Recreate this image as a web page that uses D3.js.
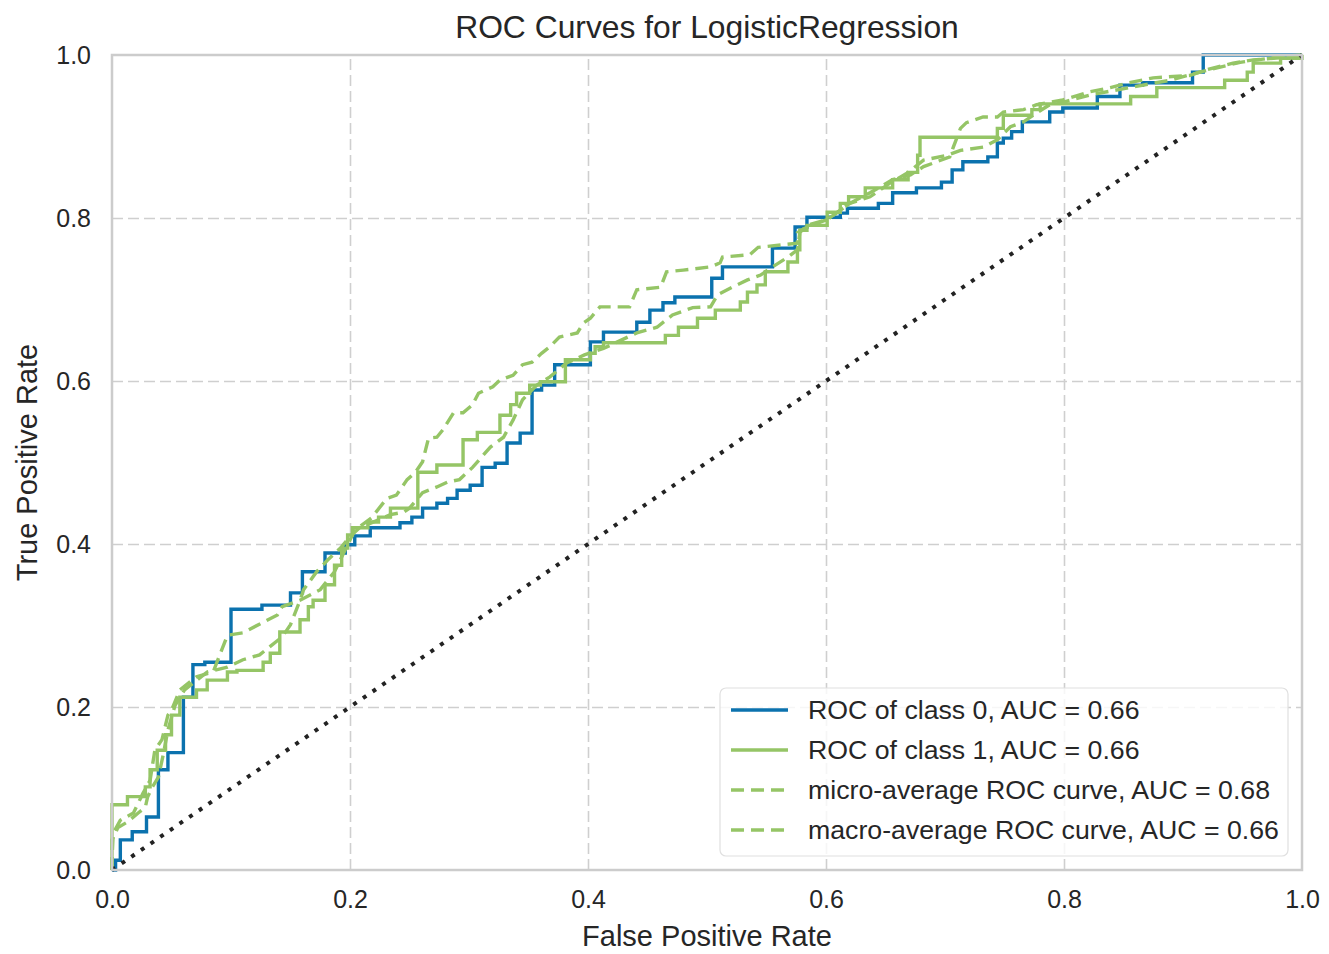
<!DOCTYPE html>
<html>
<head>
<meta charset="utf-8">
<script src="https://cdn.jsdelivr.net/npm/d3@7"></script>
<style>
  body { margin: 0; background: #ffffff; }
  text { font-family: "Liberation Sans", Arial, sans-serif; fill: #262626; }
</style>
</head>
<body>
<svg id="chart" width="1329" height="954"></svg>
<script>
// ROC points, [false positive rate, true positive rate].
// Per-class curves are step curves: each point is where a rise ends.
var class0Roc = [
  [0, 0], [0.003, 0.012], [0.007, 0.037], [0.017, 0.047], [0.029, 0.065],
  [0.039, 0.123], [0.047, 0.144], [0.060, 0.212], [0.068, 0.252], [0.078, 0.255],
  [0.100, 0.320], [0.126, 0.325], [0.150, 0.340], [0.160, 0.366], [0.179, 0.389],
  [0.196, 0.399], [0.204, 0.410], [0.217, 0.420], [0.242, 0.426], [0.252, 0.433],
  [0.261, 0.444], [0.273, 0.450], [0.282, 0.456], [0.290, 0.466], [0.301, 0.472],
  [0.311, 0.494], [0.322, 0.499], [0.332, 0.524], [0.343, 0.536], [0.353, 0.589],
  [0.361, 0.595], [0.372, 0.620], [0.402, 0.648], [0.413, 0.660], [0.441, 0.672],
  [0.452, 0.687], [0.463, 0.696], [0.473, 0.703], [0.504, 0.726], [0.513, 0.740],
  [0.555, 0.763], [0.574, 0.789], [0.584, 0.801], [0.612, 0.806], [0.618, 0.812],
  [0.644, 0.818], [0.656, 0.831], [0.676, 0.837], [0.697, 0.844], [0.706, 0.859],
  [0.715, 0.869], [0.736, 0.875], [0.744, 0.892], [0.749, 0.898], [0.756, 0.906],
  [0.765, 0.918], [0.788, 0.930], [0.799, 0.935], [0.828, 0.949], [0.847, 0.963],
  [0.866, 0.966], [0.908, 0.979], [0.917, 1.0], [1.0, 1.0]
];

var class1Roc = [
  [0, 0], [0, 0.080], [0.013, 0.090], [0.028, 0.102], [0.032, 0.123],
  [0.038, 0.147], [0.045, 0.166], [0.050, 0.190], [0.057, 0.212], [0.071, 0.221],
  [0.080, 0.233], [0.097, 0.243], [0.105, 0.245], [0.127, 0.255], [0.133, 0.266],
  [0.141, 0.292], [0.158, 0.307], [0.165, 0.323], [0.169, 0.331], [0.179, 0.350],
  [0.187, 0.374], [0.193, 0.395], [0.198, 0.411], [0.202, 0.420], [0.215, 0.427],
  [0.224, 0.433], [0.234, 0.444], [0.257, 0.488], [0.273, 0.497], [0.295, 0.528],
  [0.307, 0.537], [0.326, 0.558], [0.335, 0.571], [0.340, 0.585], [0.351, 0.595],
  [0.360, 0.599], [0.381, 0.626], [0.402, 0.634], [0.406, 0.642], [0.413, 0.647],
  [0.465, 0.656], [0.476, 0.666], [0.492, 0.677], [0.507, 0.687], [0.528, 0.697],
  [0.534, 0.709], [0.542, 0.718], [0.549, 0.734], [0.568, 0.746], [0.576, 0.761],
  [0.578, 0.785], [0.584, 0.791], [0.601, 0.807], [0.612, 0.818], [0.619, 0.826],
  [0.633, 0.837], [0.656, 0.847], [0.669, 0.856], [0.677, 0.877], [0.679, 0.899],
  [0.744, 0.910], [0.749, 0.926], [0.773, 0.933], [0.780, 0.940], [0.856, 0.949],
  [0.878, 0.960], [0.935, 0.969], [0.954, 0.979], [0.959, 0.990], [0.982, 0.996],
  [1.0, 1.0]
];

// averaged curves have many tiny steps, read as polylines
var microRoc = [
  [0, 0], [0, 0.012], [0.001, 0.045], [0.007, 0.061], [0.018, 0.070],
  [0.026, 0.094], [0.032, 0.110], [0.036, 0.147], [0.042, 0.160], [0.047, 0.190],
  [0.050, 0.196], [0.057, 0.221], [0.071, 0.237], [0.085, 0.243], [0.097, 0.288],
  [0.110, 0.291], [0.127, 0.304], [0.139, 0.313], [0.143, 0.323], [0.158, 0.331],
  [0.175, 0.344], [0.187, 0.366], [0.196, 0.393], [0.204, 0.417], [0.218, 0.432],
  [0.231, 0.456], [0.239, 0.460], [0.248, 0.479], [0.255, 0.488], [0.261, 0.501],
  [0.266, 0.530], [0.273, 0.531], [0.278, 0.540], [0.287, 0.561], [0.295, 0.561],
  [0.303, 0.571], [0.308, 0.585], [0.320, 0.593], [0.326, 0.601], [0.337, 0.607],
  [0.345, 0.620], [0.353, 0.623], [0.361, 0.634], [0.368, 0.642], [0.376, 0.654],
  [0.391, 0.659], [0.396, 0.671], [0.402, 0.677], [0.410, 0.691], [0.435, 0.691],
  [0.441, 0.712], [0.461, 0.715], [0.466, 0.734], [0.480, 0.736], [0.503, 0.740],
  [0.511, 0.745], [0.513, 0.752], [0.536, 0.755], [0.543, 0.764], [0.576, 0.769],
  [0.576, 0.782], [0.584, 0.789], [0.601, 0.798], [0.620, 0.818], [0.637, 0.831],
  [0.656, 0.847], [0.671, 0.853], [0.682, 0.863], [0.693, 0.869], [0.704, 0.875],
  [0.707, 0.887], [0.713, 0.910], [0.718, 0.917], [0.732, 0.924], [0.744, 0.924],
  [0.749, 0.930], [0.766, 0.933], [0.777, 0.939], [0.799, 0.945], [0.822, 0.955],
  [0.839, 0.960], [0.855, 0.966], [0.875, 0.972], [0.906, 0.975], [0.920, 0.982],
  [0.942, 0.990], [0.959, 0.994], [0.976, 0.996], [0.996, 0.998], [1, 1]
];

var macroRoc = [
  [0, 0], [0, 0.037], [0.005, 0.052], [0.013, 0.059], [0.022, 0.070],
  [0.028, 0.077], [0.030, 0.090], [0.034, 0.102], [0.039, 0.114], [0.043, 0.141],
  [0.047, 0.172], [0.053, 0.202], [0.061, 0.221], [0.080, 0.243], [0.097, 0.249],
  [0.110, 0.258], [0.124, 0.264], [0.143, 0.286], [0.150, 0.301], [0.158, 0.331],
  [0.161, 0.344], [0.172, 0.366], [0.181, 0.380], [0.192, 0.395], [0.200, 0.409],
  [0.208, 0.420], [0.223, 0.429], [0.234, 0.436], [0.245, 0.439], [0.250, 0.444],
  [0.261, 0.463], [0.273, 0.470], [0.282, 0.476], [0.292, 0.479], [0.303, 0.494],
  [0.318, 0.519], [0.329, 0.531], [0.337, 0.552], [0.345, 0.577], [0.357, 0.595],
  [0.368, 0.605], [0.382, 0.622], [0.397, 0.632], [0.413, 0.640], [0.441, 0.659],
  [0.458, 0.666], [0.471, 0.681], [0.488, 0.690], [0.503, 0.691], [0.509, 0.706],
  [0.521, 0.715], [0.534, 0.724], [0.545, 0.730], [0.555, 0.740], [0.568, 0.752],
  [0.576, 0.761], [0.578, 0.782], [0.584, 0.791], [0.601, 0.798], [0.620, 0.818],
  [0.637, 0.826], [0.654, 0.843], [0.668, 0.855], [0.682, 0.871], [0.702, 0.877],
  [0.713, 0.883], [0.732, 0.887], [0.744, 0.896], [0.755, 0.912], [0.766, 0.918],
  [0.777, 0.929], [0.788, 0.939], [0.799, 0.942], [0.822, 0.951], [0.855, 0.960],
  [0.889, 0.969], [0.914, 0.979], [0.948, 0.991], [0.982, 0.998], [1, 1]
];

var diagonal = [[0, 0], [1, 1]];

var tickValues = [0, 0.2, 0.4, 0.6, 0.8, 1.0];

var legendLabels = [
  "ROC of class 0, AUC = 0.66",
  "ROC of class 1, AUC = 0.66",
  "micro-average ROC curve, AUC = 0.68",
  "macro-average ROC curve, AUC = 0.66"
];

var blue = "#0b72ae", green = "#95c566", dash = "13 7";

var svg = d3.select("#chart"),
  margin = {top: 55, right: 27, bottom: 84, left: 112},
  width = svg.attr("width") - margin.left - margin.right,
  height = svg.attr("height") - margin.top - margin.bottom;

var x = d3.scaleLinear().domain([0, 1]).range([0, width]);
var y = d3.scaleLinear().domain([0, 1]).range([height, 0]);

var g = svg.append("g")
  .attr("transform", "translate(" + margin.left + "," + margin.top + ")");

g.append("rect")
  .attr("width", width)
  .attr("height", height)
  .attr("fill", "#ffffff");

// dashed grid, seaborn whitegrid look
var gridX = g.append("g")
  .attr("transform", "translate(0," + height + ")")
  .call(d3.axisBottom(x).tickValues(tickValues.slice(1, -1)).tickSize(-height).tickFormat(""));
var gridY = g.append("g")
  .call(d3.axisLeft(y).tickValues(tickValues.slice(1, -1)).tickSize(-width).tickFormat(""));
[gridX, gridY].forEach(function(a) {
  a.select(".domain").remove();
  a.selectAll("line")
    .attr("stroke", "#cfcfcf")
    .attr("stroke-width", 1.6)
    .attr("stroke-dasharray", "11 5");
});

// tick labels
var axX = g.append("g")
  .attr("transform", "translate(0," + height + ")")
  .call(d3.axisBottom(x).tickValues(tickValues).tickSize(0).tickPadding(20).tickFormat(d3.format(".1f")));
var axY = g.append("g")
  .call(d3.axisLeft(y).tickValues(tickValues).tickSize(0).tickPadding(21).tickFormat(d3.format(".1f")));
[axX, axY].forEach(function(a) {
  a.select(".domain").remove();
  a.selectAll("text")
    .attr("font-size", 25)
    .attr("font-family", "Liberation Sans, Arial, sans-serif")
    .attr("fill", "#262626");
});

var stepLine = d3.line()
  .x(function(d) { return x(d[0]); })
  .y(function(d) { return y(d[1]); })
  .curve(d3.curveStepAfter);
var polyLine = d3.line()
  .x(function(d) { return x(d[0]); })
  .y(function(d) { return y(d[1]); });

var curves = [
  {data: class0Roc, gen: stepLine, color: blue, dash: null},
  {data: class1Roc, gen: stepLine, color: green, dash: null},
  {data: microRoc, gen: polyLine, color: green, dash: dash},
  {data: macroRoc, gen: polyLine, color: green, dash: dash}
];

curves.forEach(function(c) {
  g.append("path")
    .datum(c.data)
    .attr("d", c.gen)
    .attr("fill", "none")
    .attr("stroke", c.color)
    .attr("stroke-width", 3.4)
    .attr("stroke-dasharray", c.dash);
});

// chance line, dotted, on top
g.append("path")
  .datum(diagonal)
  .attr("d", polyLine)
  .attr("fill", "none")
  .attr("stroke", "#222222")
  .attr("stroke-width", 4)
  .attr("stroke-dasharray", "4 7.7");

// axes frame
g.append("rect")
  .attr("width", width)
  .attr("height", height)
  .attr("fill", "none")
  .attr("stroke", "#cccccc")
  .attr("stroke-width", 2.5);

// legend box in lower right
var legend = g.append("g")
  .attr("transform", "translate(" + (width - 582) + "," + (height - 182) + ")");
legend.append("rect")
  .attr("width", 568)
  .attr("height", 168)
  .attr("rx", 6)
  .attr("fill", "#ffffff")
  .attr("fill-opacity", 0.8)
  .attr("stroke", "#e0e0e0")
  .attr("stroke-width", 1.2);

legendLabels.forEach(function(label, i) {
  var row = legend.append("g")
    .attr("transform", "translate(0," + (22 + i * 40) + ")");
  row.append("line")
    .attr("x1", 11).attr("x2", 68)
    .attr("y1", 0).attr("y2", 0)
    .attr("stroke", curves[i].color)
    .attr("stroke-width", 3.4)
    .attr("stroke-dasharray", curves[i].dash);
  row.append("text")
    .attr("x", 88)
    .attr("y", 9)
    .attr("font-size", 26.7)
    .text(label);
});

// Title and axis labels
svg.append("text")
  .attr("x", margin.left + width / 2)
  .attr("y", 38)
  .attr("text-anchor", "middle")
  .attr("font-size", 31.8)
  .text("ROC Curves for LogisticRegression");

svg.append("text")
  .attr("x", margin.left + width / 2)
  .attr("y", 946)
  .attr("text-anchor", "middle")
  .attr("font-size", 29)
  .text("False Positive Rate");

svg.append("text")
  .attr("transform", "translate(37," + (margin.top + height / 2) + ") rotate(-90)")
  .attr("text-anchor", "middle")
  .attr("font-size", 29)
  .text("True Positive Rate");
</script>
</body>
</html>
